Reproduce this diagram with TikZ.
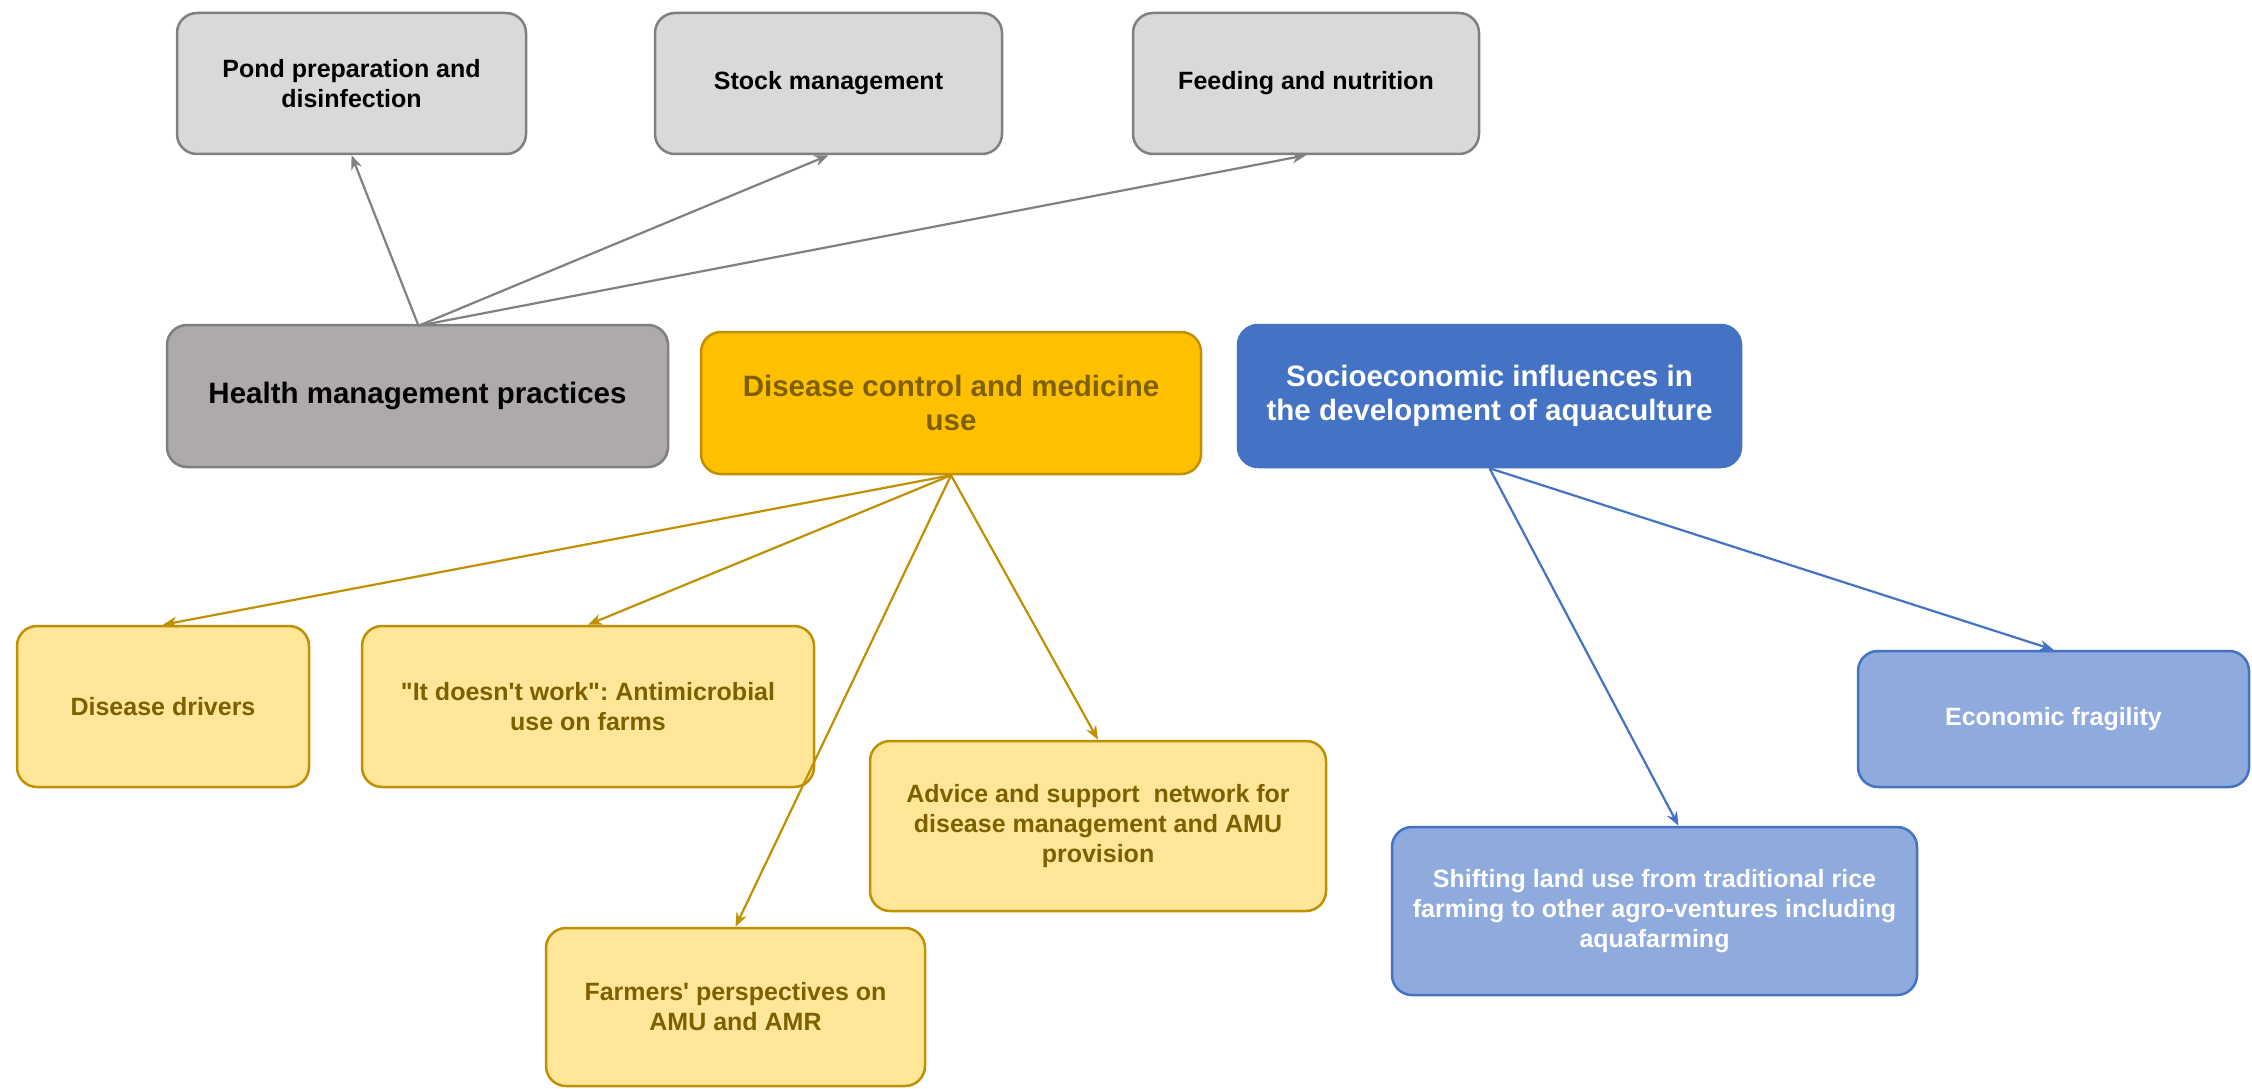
\documentclass[tikz,border=0pt]{standalone}
\usepackage{fontspec}
\setmainfont[Ligatures=TeXOff]{Liberation Sans}
\frenchspacing
\usetikzlibrary{arrows.meta}
\definecolor{grayfill}{HTML}{D9D9D9}
\definecolor{grayline}{HTML}{808080}
\definecolor{darkgrayfill}{HTML}{AEAAAA}
\definecolor{darkgrayline}{HTML}{7F7F7F}
\definecolor{goldfill}{HTML}{FFC000}
\definecolor{goldline}{HTML}{BF9000}
\definecolor{goldtext}{HTML}{7F6000}
\definecolor{lightgold}{HTML}{FFE699}
\definecolor{bluefill}{HTML}{4472C4}
\definecolor{blueline}{HTML}{4472C4}
\definecolor{lightblue}{HTML}{8FAADC}
\tikzset{
  box/.style={rectangle, rounded corners=20pt, line width=2.5pt, inner sep=0pt, align=center,
    font=\fontsize{25}{30}\selectfont\bfseries},
  graybox/.style={box, fill=grayfill, draw=grayline, text=black},
  headgray/.style={box, fill=darkgrayfill, draw=darkgrayline, text=black, font=\fontsize{29.5}{34}\selectfont\bfseries},
  headgold/.style={box, fill=goldfill, draw=goldline, text=goldtext, font=\fontsize{29.5}{34}\selectfont\bfseries},
  headblue/.style={box, fill=bluefill, draw=blueline, text=white, font=\fontsize{29.5}{34}\selectfont\bfseries},
  goldbox/.style={box, fill=lightgold, draw=goldline, text=goldtext},
  bluebox/.style={box, fill=lightblue, draw=blueline, text=white},
  link/.style={line width=2.2pt, -{Stealth[length=14pt,width=11pt]}},
  graylink/.style={link, draw=grayline},
  goldlink/.style={link, draw=goldline},
  bluelink/.style={link, draw=blueline}
}
\begin{document}
\begin{tikzpicture}[x=1pt,y=-1pt]
\useasboundingbox[fill=white] (0,0) rectangle (2252,1089);

% top gray boxes
\node[graybox, minimum width=349pt, minimum height=141pt] (pond) at (351.5,83.5) {Pond preparation and\\disinfection};
\node[graybox, minimum width=347pt, minimum height=141pt] (stock) at (828.5,83.5) {Stock management};
\node[graybox, minimum width=346pt, minimum height=141pt] (feed) at (1306,83.5) {Feeding and nutrition};

% heading boxes
\node[headgray, minimum width=501pt, minimum height=142pt] (health) at (417.5,396) {Health management practices};
\node[headgold, minimum width=500pt, minimum height=142pt] (dc) at (951,403) {Disease control and medicine\\use};
\node[headblue, minimum width=503pt, minimum height=142pt] (socio) at (1489.5,396) {Socioeconomic influences in\\the development of aquaculture};

% yellow boxes
\node[goldbox, minimum width=292pt, minimum height=161pt] (drivers) at (163,706.5) {Disease drivers};
\node[goldbox, minimum width=452pt, minimum height=161pt] (doesnt) at (588,706.5) {"It doesn't work": Antimicrobial\\use on farms};
\node[goldbox, minimum width=456pt, minimum height=170pt] (advice) at (1098,826) {Advice and support\ \ network for\\disease management and AMU\\provision};
\node[goldbox, minimum width=379pt, minimum height=158pt] (farmers) at (735.5,1007) {Farmers' perspectives on\\AMU and AMR};

% blue boxes
\node[bluebox, minimum width=391pt, minimum height=136pt] (econ) at (2053.5,719) {Economic fragility};
\node[bluebox, minimum width=525pt, minimum height=168pt] (shift) at (1654.5,911) {Shifting land use from traditional rice\\farming to other agro-ventures including\\aquafarming};

% connectors
\coordinate (hstart) at ([xshift=1pt,yshift=-2pt]health.north);
\draw[graylink] (hstart) -- (pond.south);
\draw[graylink] (hstart) -- (stock.south);
\draw[graylink] (hstart) -- (feed.south);

\draw[goldlink] (dc.south) -- (drivers.north);
\draw[goldlink] (dc.south) -- (doesnt.north);
\draw[goldlink] (dc.south) -- (farmers.north);
\draw[goldlink] (dc.south) -- (advice.north);

\coordinate (shiftend) at ([xshift=24pt]shift.north);
\draw[bluelink] (socio.south) -- (shiftend);
\draw[bluelink] (socio.south) -- (econ.north);
\end{tikzpicture}
\end{document}
